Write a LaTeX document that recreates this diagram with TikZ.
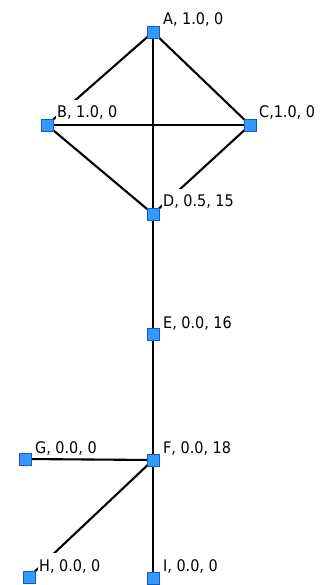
\documentclass[tikz,border=0pt]{standalone}
\usepackage{fontspec}
\setmainfont{DejaVu Sans Condensed}
\definecolor{sqfill}{RGB}{51,153,255}
\definecolor{sqdraw}{RGB}{20,90,200}
\begin{document}
\begin{tikzpicture}[x=1pt,y=-1pt,
  vtx/.style={draw=sqdraw,fill=sqfill,line width=0.8pt,minimum size=12pt,inner sep=0pt,outer sep=0pt},
  lbl/.style={fill=white,inner sep=1pt,text height=17pt,anchor=base west,font=\fontsize{16}{18}\selectfont},
  edge/.style={line width=2.1pt,black}]
\useasboundingbox[fill=white] (0,0) rectangle (325,585);
\coordinate (A) at (153,32);
\coordinate (B) at (47,125);
\coordinate (C) at (250,125);
\coordinate (D) at (153,214);
\coordinate (E) at (153,334);
\coordinate (F) at (153,460);
\coordinate (G) at (25,459);
\coordinate (H) at (29,577);
\coordinate (I) at (153,578);
\draw[edge] (A) -- (B);
\draw[edge] (A) -- (C);
\draw[edge] (A) -- (D);
\draw[edge] (B) -- (C);
\draw[edge] (B) -- (D);
\draw[edge] (C) -- (D);
\draw[edge] (D) -- (E);
\draw[edge] (E) -- (F);
\draw[edge] (F) -- (G);
\draw[edge] (F) -- (H);
\draw[edge] (F) -- (I);
\node[lbl] (lA) at ([shift={(9,-7)}]A) {A, 1.0, 0};
\node[lbl] (lB) at ([shift={(9,-7)}]B) {B, 1.0, 0};
\node[lbl] (lC) at ([shift={(8,-7)}]C) {C,1.0, 0};
\node[lbl] (lD) at ([shift={(9,-7)}]D) {D, 0.5, 15};
\node[lbl] (lE) at ([shift={(9,-6)}]E) {E, 0.0, 16};
\node[lbl] (lF) at ([shift={(9,-7)}]F) {F, 0.0, 18};
\node[lbl] (lG) at ([shift={(9,-6)}]G) {G, 0.0, 0};
\node[lbl] (lH) at ([shift={(9,-6)}]H) {H, 0.0, 0};
\node[lbl] (lI) at ([shift={(9,-7)}]I) {I, 0.0, 0};
\foreach \n in {A,B,C,D,E,F,G,H,I} \node[vtx] (v\n) at (\n) {};
\end{tikzpicture}
\end{document}
